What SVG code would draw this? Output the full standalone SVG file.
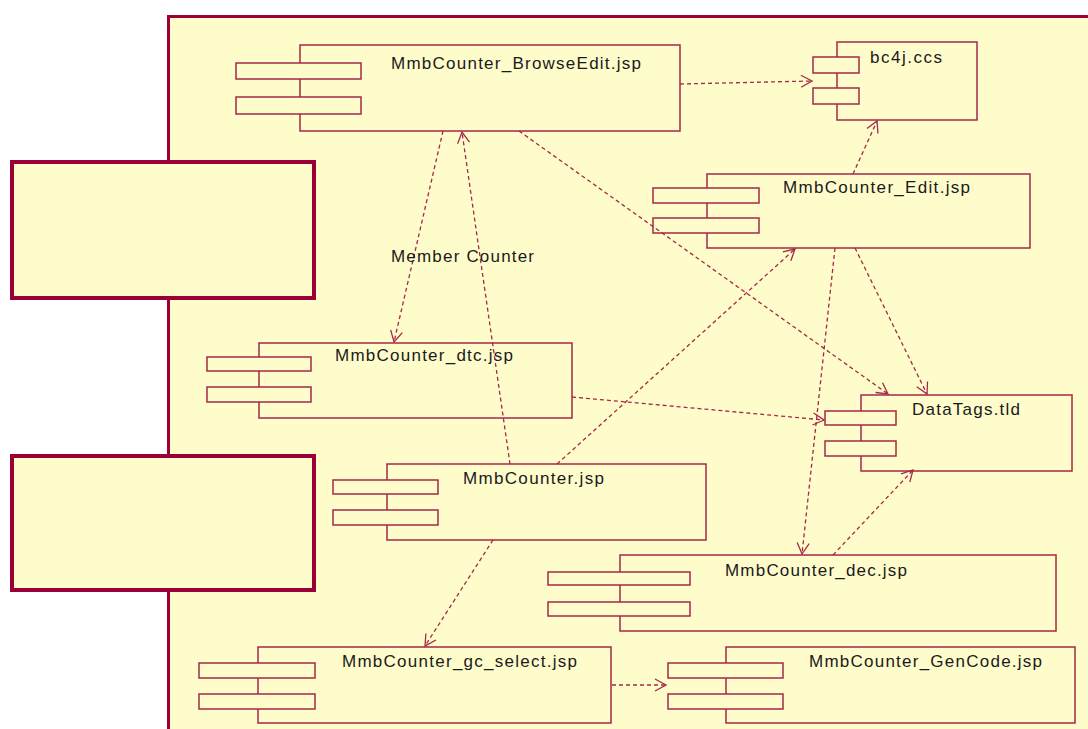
<svg xmlns="http://www.w3.org/2000/svg" width="1088" height="729" viewBox="0 0 1088 729">
  <defs>
    <style>
      .pkg { fill: #fffccc; stroke: #9c0038; stroke-width: 3; }
      .side { fill: #fffccc; stroke: #9a0036; stroke-width: 4; }
      .body { fill: #fffccc; stroke: #a52848; stroke-width: 1.5; }
      .tab { fill: #fffccc; stroke: #a52848; stroke-width: 1.5; }
      .dep { fill: none; stroke: #a52848; stroke-width: 1.3; stroke-dasharray: 4 3; }
      .lbl { font-family: "Liberation Sans", Arial, sans-serif; font-size: 17px; fill: #1a1a1a; }
    </style>
    <marker id="open" markerUnits="userSpaceOnUse" markerWidth="16" markerHeight="16" refX="12" refY="7" orient="auto">
      <path d="M1,1 L12,7 L1,13" fill="none" stroke="#a52848" stroke-width="1.3"/>
    </marker>
  </defs>

  <rect x="0" y="0" width="1088" height="729" fill="#ffffff"/>

  <!-- package frame -->
  <rect class="pkg" x="168.5" y="16.5" width="940" height="740"/>

  <!-- side panels -->
  <g id="panel-top">
    <rect class="side" x="12" y="162" width="302" height="136"/>
  </g>
  <g id="panel-bottom">
    <rect class="side" x="12" y="456" width="302" height="134"/>
  </g>

  <!-- components -->
  <g id="browse-edit">
    <rect class="body" x="300" y="45" width="380" height="86"/>
    <rect class="tab" x="236" y="63" width="125" height="16"/>
    <rect class="tab" x="236" y="97" width="125" height="17"/>
    <text class="lbl" x="391" y="69" textLength="250" lengthAdjust="spacing">MmbCounter_BrowseEdit.jsp</text>
  </g>

  <g id="bc4j">
    <rect class="body" x="837" y="42" width="140" height="78"/>
    <rect class="tab" x="813" y="57" width="46" height="16"/>
    <rect class="tab" x="813" y="88" width="46" height="16"/>
    <text class="lbl" x="870" y="63" textLength="72" lengthAdjust="spacing">bc4j.ccs</text>
  </g>

  <g id="edit">
    <rect class="body" x="707" y="174" width="323" height="74"/>
    <rect class="tab" x="653" y="188" width="106" height="15"/>
    <rect class="tab" x="653" y="218" width="106" height="15"/>
    <text class="lbl" x="783" y="193" textLength="187" lengthAdjust="spacing">MmbCounter_Edit.jsp</text>
  </g>

  <g id="dtc">
    <rect class="body" x="259" y="343" width="313" height="75"/>
    <rect class="tab" x="207" y="357" width="104" height="14"/>
    <rect class="tab" x="207" y="387" width="104" height="15"/>
    <text class="lbl" x="335" y="361" textLength="178" lengthAdjust="spacing">MmbCounter_dtc.jsp</text>
  </g>

  <g id="datatags">
    <rect class="body" x="861" y="395" width="211" height="76"/>
    <rect class="tab" x="825" y="411" width="71" height="14"/>
    <rect class="tab" x="825" y="441" width="71" height="15"/>
    <text class="lbl" x="912" y="415" textLength="108" lengthAdjust="spacing">DataTags.tld</text>
  </g>

  <g id="counter">
    <rect class="body" x="387" y="464" width="319" height="76"/>
    <rect class="tab" x="333" y="480" width="105" height="14"/>
    <rect class="tab" x="333" y="510" width="105" height="15"/>
    <text class="lbl" x="463" y="484" textLength="141" lengthAdjust="spacing">MmbCounter.jsp</text>
  </g>

  <g id="dec">
    <rect class="body" x="620" y="555" width="436" height="76"/>
    <rect class="tab" x="548" y="572" width="142" height="13"/>
    <rect class="tab" x="548" y="602" width="142" height="14"/>
    <text class="lbl" x="725" y="576" textLength="182" lengthAdjust="spacing">MmbCounter_dec.jsp</text>
  </g>

  <g id="gc-select">
    <rect class="body" x="258" y="647" width="353" height="76"/>
    <rect class="tab" x="199" y="663" width="116" height="15"/>
    <rect class="tab" x="199" y="694" width="116" height="15"/>
    <text class="lbl" x="342" y="667" textLength="235" lengthAdjust="spacing">MmbCounter_gc_select.jsp</text>
  </g>

  <g id="gencode">
    <rect class="body" x="726" y="647" width="349" height="76"/>
    <rect class="tab" x="668" y="663" width="115" height="15"/>
    <rect class="tab" x="668" y="694" width="115" height="15"/>
    <text class="lbl" x="809" y="667" textLength="233" lengthAdjust="spacing">MmbCounter_GenCode.jsp</text>
  </g>

  <!-- dependencies -->
  <g id="connectors">
    <path class="dep" d="M680,84 L812,81" marker-end="url(#open)"/>
    <path class="dep" d="M853,174 L877,121" marker-end="url(#open)"/>
    <path class="dep" d="M443,131 L394,342" marker-end="url(#open)"/>
    <path class="dep" d="M510,464 L462,132" marker-end="url(#open)"/>
    <path class="dep" d="M519,131 L888,394" marker-end="url(#open)"/>
    <path class="dep" d="M572,397 L824,420" marker-end="url(#open)"/>
    <path class="dep" d="M557,464 L795,249" marker-end="url(#open)"/>
    <path class="dep" d="M835,248 L802,554" marker-end="url(#open)"/>
    <path class="dep" d="M855,248 L927,394" marker-end="url(#open)"/>
    <path class="dep" d="M833,555 L913,470" marker-end="url(#open)"/>
    <path class="dep" d="M493,540 L425,646" marker-end="url(#open)"/>
    <path class="dep" d="M612,685 L666,685" marker-end="url(#open)"/>
    <text class="lbl" x="391" y="262" textLength="143" lengthAdjust="spacing">Member Counter</text>
  </g>
</svg>
